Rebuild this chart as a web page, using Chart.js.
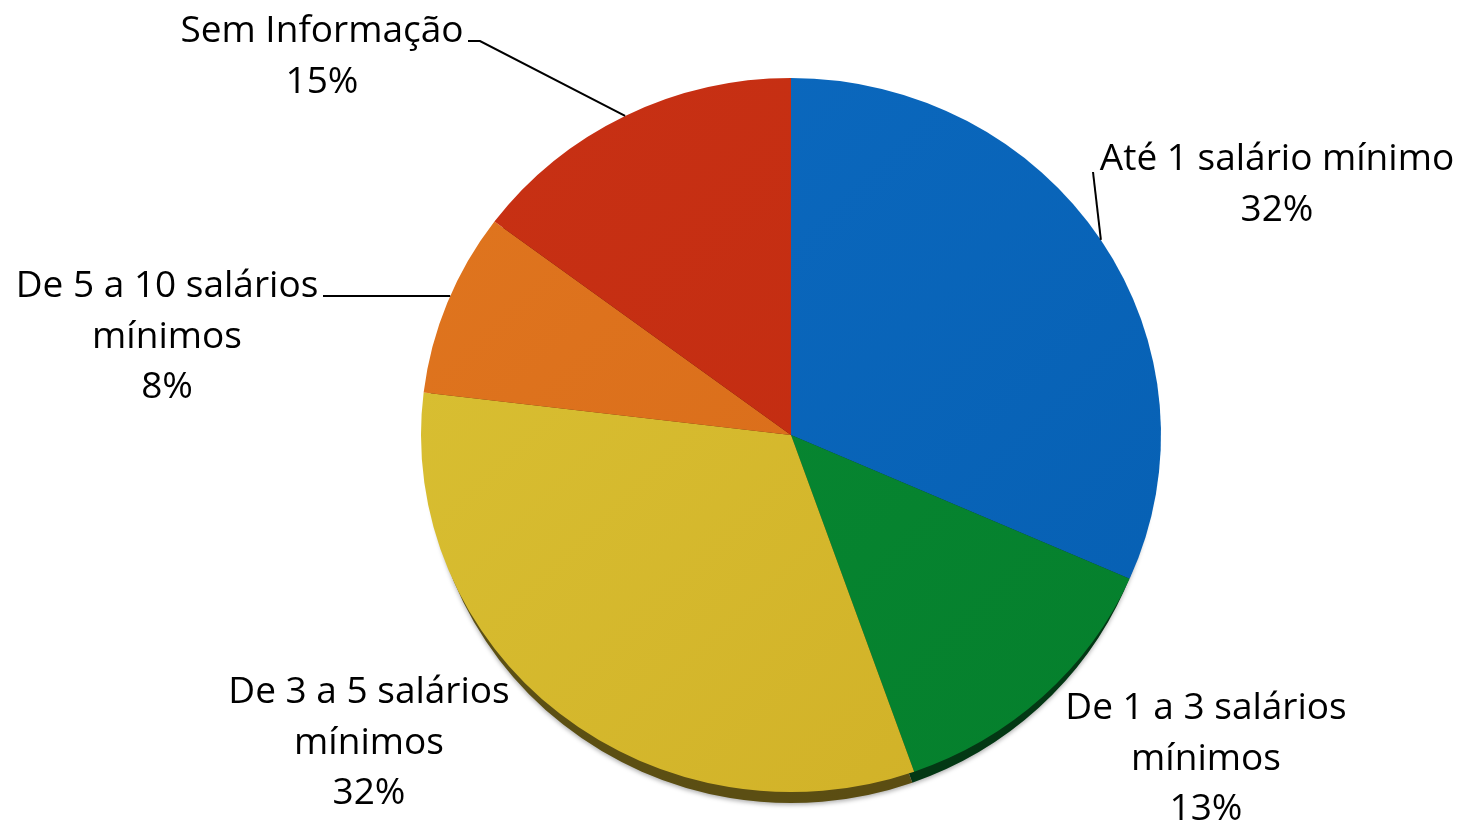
<!DOCTYPE html>
<html>
<head>
<meta charset="utf-8">
<script src="https://cdn.jsdelivr.net/npm/chart.js@4/dist/chart.umd.min.js"></script>
<style>
  html, body { margin: 0; padding: 0; background: #ffffff; }
  #wrap { width: 1462px; height: 825px; position: relative; }
</style>
</head>
<body>
<div id="wrap"><canvas id="c" width="1462" height="825"></canvas></div>
<script>
// ---- data ----
const categories = ['Até 1 salário mínimo', 'De 1 a 3 salários mínimos', 'De 3 a 5 salários mínimos', 'De 5 a 10 salários mínimos', 'Sem Informação'];
const labelLines = [['Até 1 salário mínimo'], ['De 1 a 3 salários', 'mínimos'], ['De 3 a 5 salários', 'mínimos'], ['De 5 a 10 salários', 'mínimos'], ['Sem Informação']];
const values = [31.6, 13.0, 32.3, 8.3, 14.8];
const colorsLight = ['#0C6AC0', '#088A34', '#DAC234', '#E0761F', '#C83114'];
const colorsDark  = ['#065FB2', '#057F2C', '#D0AF26', '#D66818', '#C02A10'];

// ---- layout ----
const FONT = '37px "Open Sans"';
const LINE_H = 50.5;
const SCALE_Y = 357 / 370;
const SIDE_SCALE_X = 0.985;
const DEPTH = 11;
const labelPos = [
  { x: 1277, y: 170, leader: { from: [[1093, 172]], to: 'mid' } },
  { x: 1206, y: 719, leader: null },
  { x: 369, y: 703, leader: null },
  { x: 167, y: 297, leader: { from: [[323, 296]], to: 'h' } },
  { x: 322, y: 42, leader: { from: [[468, 41], [480, 41]], to: 'mid' } }
];

function geom(chart) {
  const meta = chart.getDatasetMeta(0);
  const a = meta.data[0];
  return { cx: a.x, cy: a.y, r: a.outerRadius };
}
function applyTransform(ctx, g, dy, sx) {
  ctx.translate(g.cx, g.cy + dy);
  ctx.scale(sx, SCALE_Y);
  ctx.translate(-g.cx, -g.cy);
}

const pie3d = {
  id: 'pie3d',
  beforeDatasetsDraw(chart) {
    const ctx = chart.ctx;
    const g = geom(chart);
    const meta = chart.getDatasetMeta(0);
    // extruded side (darkened copy shifted down)
    ctx.save();
    applyTransform(ctx, g, DEPTH, SIDE_SCALE_X);
    ctx.shadowColor = 'rgba(0,0,0,0.3)';
    ctx.shadowBlur = 4;
    ctx.shadowOffsetY = 2;
    meta.data.forEach(el => el.draw(ctx));
    ctx.restore();
    ctx.save();
    ctx.globalCompositeOperation = 'source-atop';
    ctx.fillStyle = 'rgba(0,0,0,0.57)';
    ctx.fillRect(0, 0, chart.width, chart.height);
    ctx.restore();
    // top face transform
    ctx.save();
    applyTransform(ctx, g, 0, 1);
  },
  afterDatasetsDraw(chart) {
    chart.ctx.restore();
  },
  afterDraw(chart) {
    const ctx = chart.ctx;
    const g = geom(chart);
    const meta = chart.getDatasetMeta(0);
    ctx.save();
    ctx.fillStyle = '#000';
    ctx.font = FONT;
    ctx.textAlign = 'center';
    ctx.textBaseline = 'alphabetic';
    labelPos.forEach((p, i) => {
      const lines = labelLines[i].concat([Math.round(values[i]) + '%']);
      lines.forEach((t, k) => ctx.fillText(t, p.x, p.y + k * LINE_H));
      if (p.leader) {
        const el = meta.data[i];
        let end;
        if (p.leader.to === 'mid') {
          const mid = (el.startAngle + el.endAngle) / 2;
          end = [g.cx + g.r * Math.cos(mid), g.cy + g.r * SCALE_Y * Math.sin(mid)];
        } else {
          const last = p.leader.from[p.leader.from.length - 1];
          const ry = g.r * SCALE_Y;
          const t = (last[1] - g.cy) / ry;
          end = [g.cx - g.r * Math.sqrt(1 - t * t), last[1]];
        }
        ctx.beginPath();
        ctx.lineWidth = 2;
        ctx.strokeStyle = '#000';
        ctx.moveTo(p.leader.from[0][0], p.leader.from[0][1]);
        p.leader.from.slice(1).forEach(q => ctx.lineTo(q[0], q[1]));
        ctx.lineTo(end[0], end[1]);
        ctx.stroke();
      }
    });
    ctx.restore();
  }
};

function sliceFill(c) {
  const i = c.dataIndex;
  const chart = c.chart;
  const ca = chart.chartArea;
  if (!ca) return colorsLight[i];
  const gr = chart.ctx.createLinearGradient(ca.left, ca.top, ca.right, ca.bottom);
  gr.addColorStop(0, colorsLight[i]);
  gr.addColorStop(1, colorsDark[i]);
  return gr;
}

new Chart(document.getElementById('c'), {
  type: 'pie',
  data: {
    labels: categories,
    datasets: [{
      data: values,
      backgroundColor: sliceFill,
      borderWidth: 0
    }]
  },
  options: {
    responsive: false,
    animation: false,
    layout: { padding: { left: 421, right: 301, top: 65, bottom: 20 } },
    plugins: { legend: { display: false }, tooltip: { enabled: false } }
  },
  plugins: [pie3d]
});
</script>
</body>
</html>
